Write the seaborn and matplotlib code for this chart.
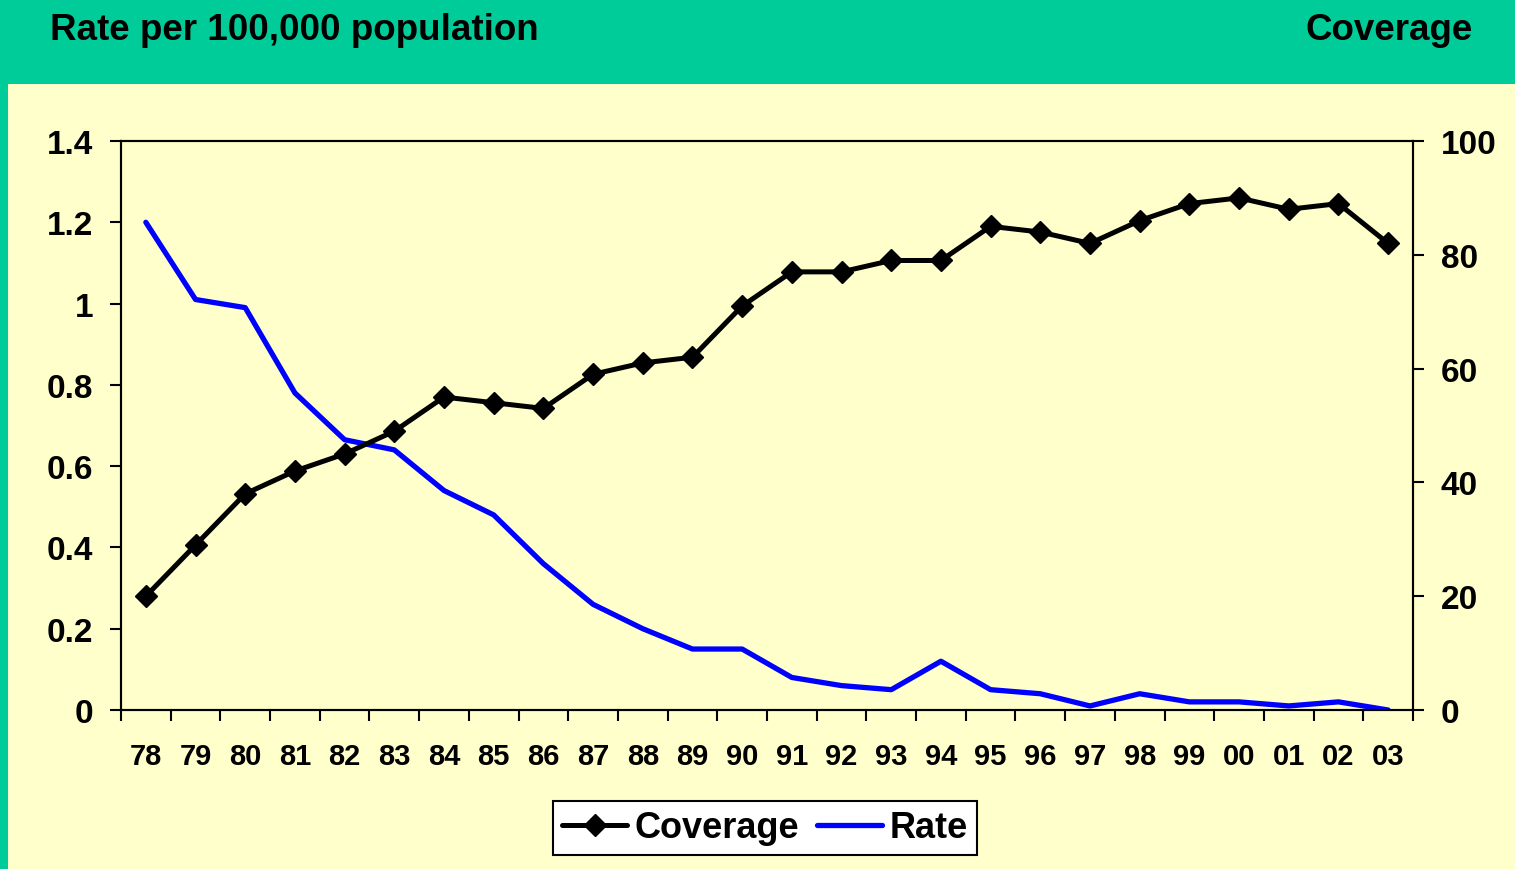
import numpy as np
import pandas as pd
import matplotlib.pyplot as plt
from matplotlib.patches import Rectangle
from matplotlib.lines import Line2D
import seaborn as sns

# data
years = ["78", "79", "80", "81", "82", "83", "84", "85", "86", "87", "88", "89", "90",
         "91", "92", "93", "94", "95", "96", "97", "98", "99", "00", "01", "02", "03"]
coverage = [20, 29, 38, 42, 45, 49, 55, 54, 53, 59, 61, 62, 71,
            77, 77, 79, 79, 85, 84, 82, 86, 89, 90, 88, 89, 82]
rate = [1.20, 1.01, 0.99, 0.78, 0.665, 0.64, 0.54, 0.48, 0.36, 0.26, 0.20, 0.15, 0.15,
        0.08, 0.06, 0.05, 0.12, 0.05, 0.04, 0.01, 0.04, 0.02, 0.02, 0.01, 0.02, 0.0]

GREEN = "#00CC99"
YELLOW = "#FFFFCC"
FONT = "Liberation Sans"


def make_chart():
    df = pd.DataFrame({"pos": np.arange(len(years)), "year": years,
                       "coverage": coverage, "rate": rate})

    sns.set_style("ticks")
    plt.rcParams["font.family"] = [FONT, "DejaVu Sans"]
    plt.rcParams["font.weight"] = "bold"
    plt.rcParams["text.color"] = "black"
    plt.rcParams["xtick.color"] = "black"
    plt.rcParams["ytick.color"] = "black"

    fig = plt.figure(figsize=(15.15, 8.7), dpi=100, facecolor=GREEN)
    # yellow panel below the green header band
    fig.patches.append(Rectangle((8 / 1515, 0), 1, 1 - 85 / 870,
                                 transform=fig.transFigure, facecolor=YELLOW,
                                 edgecolor="none", zorder=-5))

    ax = fig.add_axes([121 / 1515, 159 / 870, 1292 / 1515, 569 / 870])
    ax.set_facecolor(YELLOW)
    ax2 = ax.twinx()

    sns.lineplot(data=df, x="pos", y="rate", ax=ax, color="#0000FF",
                 linewidth=3.8, legend=False)
    sns.lineplot(data=df, x="pos", y="coverage", ax=ax2, color="black",
                 linewidth=3.6, marker="D", markersize=11, markeredgewidth=1,
                 markeredgecolor="black", legend=False)

    ax.set_xlim(-0.5, len(years) - 0.5)
    ax.set_ylim(0, 1.4)
    ax2.set_ylim(0, 100)
    ax.set_yticks(np.arange(0, 1.41, 0.2))
    ax.set_yticklabels(["0", "0.2", "0.4", "0.6", "0.8", "1", "1.2", "1.4"])
    ax2.set_yticks(np.arange(0, 101, 20))

    ax.set_xticks(df["pos"])
    ax.set_xticklabels(years)
    ax.set_xticks(np.arange(-0.5, len(years), 1), minor=True)
    ax.tick_params(axis="x", which="major", length=0, pad=23, labelsize=21)
    ax.tick_params(axis="x", which="minor", length=8, width=1.5, direction="out")
    ax.tick_params(axis="y", length=8, width=1.5, pad=12, labelsize=24)
    ax2.tick_params(axis="y", length=8, width=1.5, pad=12, labelsize=24)

    for a in (ax, ax2):
        for sp in a.spines.values():
            sp.set_visible(True)
            sp.set_linewidth(1.5)
            sp.set_color("black")
        for lab in a.get_xticklabels() + a.get_yticklabels():
            lab.set_fontweight("bold")
    ax.set_xlabel("")
    ax.set_ylabel("")
    ax2.set_ylabel("")

    fig.text(50 / 1515, 1 - 31 / 870, "Rate per 100,000 population", fontsize=26.5,
             fontweight="bold", va="center", ha="left")
    fig.text(1473 / 1515, 1 - 31 / 870, "Coverage", fontsize=26.5,
             fontweight="bold", va="center", ha="right")

    handles = [Line2D([], [], color="black", linewidth=3.6, marker="D", markersize=11),
               Line2D([], [], color="#0000FF", linewidth=3.8)]
    leg = fig.legend(handles, ["Coverage", "Rate"], loc="center",
                     bbox_to_anchor=(765 / 1515, 1 - 829 / 870), ncol=2,
                     frameon=True, fancybox=False, edgecolor="black",
                     facecolor="white", framealpha=1, fontsize=26,
                     handlelength=1.8, columnspacing=0.5, handletextpad=0.2,
                     borderpad=0.25, borderaxespad=0)
    leg.get_frame().set_linewidth(1.5)
    for t in leg.get_texts():
        t.set_fontweight("bold")

    plt.savefig("out.png", dpi=100, facecolor=GREEN)


if __name__ == '__main__':
    make_chart()
